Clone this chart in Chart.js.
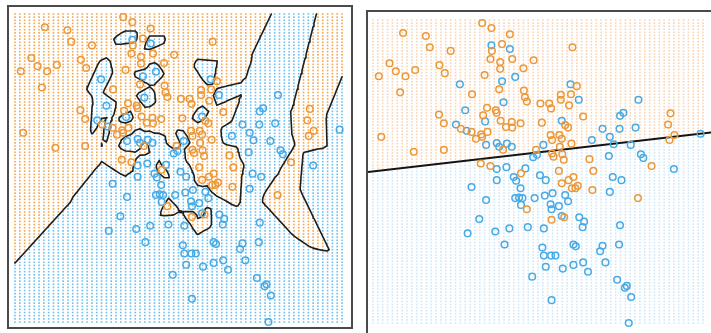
<!DOCTYPE html>
<html>
<head>
<meta charset="utf-8">
<script src="https://cdn.jsdelivr.net/npm/chart.js@4.4.1/dist/chart.umd.min.js"></script>
<style>
  html, body { margin: 0; padding: 0; background: #fff; overflow: hidden; width: 711px; height: 333px; }
  .panel { position: absolute; border: 2px solid #4a4a4a; }
  #p1 { left: 7px; top: 5px; width: 342px; height: 320px; }
  #p2 { left: 366px; top: 10px; width: 345px; height: 325px; }
  canvas { display: block; }
</style>
</head>
<body>
<div class="panel" id="p1"><canvas id="knn" width="342" height="320"></canvas></div>
<div class="panel" id="p2"><canvas id="lin" width="345" height="325"></canvas></div>
<script>
// Two-class mixture sample: [X1, X2] for each observation.
const orangePoints = [
  [-0.35,2.85],[-0.16,2.77],[0.22,2.67],[-1.98,2.69],[-1.51,2.64],[-1.43,2.46],[-1.00,2.40],[0.06,2.51],
  [-0.15,2.40],[-0.18,2.27],[0.27,2.27],[0.02,2.22],[0.02,2.11],[0.71,2.25],[0.50,2.12],[1.51,2.46],
  [-2.26,2.20],[-2.13,2.07],[-1.93,1.99],[-1.73,2.09],[-2.48,1.99],[-1.23,2.17],[-1.12,2.04],[-0.30,2.01],
  [-2.04,1.73],[-0.56,1.70],[0.00,1.78],[0.51,1.76],[0.53,1.65],[0.57,1.58],[0.85,1.55],[1.03,1.55],
  [1.07,1.47],[1.27,1.69],[1.27,1.61],[1.44,1.52],[1.48,1.70],[1.60,1.83],[1.73,1.34],[-1.24,1.37],
  [-1.14,1.23],[-0.25,1.48],[-0.07,1.44],[-0.05,1.40],[-0.33,1.36],[0.03,1.27],[0.26,1.25],[0.44,1.23],
  [0.14,1.17],[0.27,1.16],[0.88,1.24],[1.36,1.20],[1.42,1.16],[1.06,1.04],[1.24,1.04],[1.09,0.96],
  [1.29,0.98],[1.49,0.90],[1.25,0.85],[1.09,0.74],[1.30,0.73],[1.33,0.64],[1.12,0.69],[1.86,0.65],
  [3.53,1.39],[3.48,1.21],[3.61,1.04],[3.51,0.96],[3.14,0.54],[-2.43,1.01],[-1.76,0.77],[-1.14,0.80],
  [-0.79,1.14],[-0.57,1.09],[-0.48,0.98],[-0.37,1.05],[-0.35,1.01],[-0.24,1.09],[0.08,0.80],[-0.38,0.58],
  [-0.18,0.54],[0.76,0.80],[0.45,0.42],[1.23,0.46],[1.94,0.46],[1.29,0.26],[1.43,0.31],[1.53,0.36],
  [1.50,0.18],[1.62,0.22],[1.57,0.18],[1.92,0.15],[2.86,0.02],[0.57,-0.16],[1.08,-0.33],[1.34,-0.29]
];
const bluePoints = [
  [-0.16,2.49],[0.22,2.43],[0.06,1.91],[0.33,1.98],[-0.81,1.86],[0.09,1.57],[-0.70,1.44],[-0.29,1.26],
  [-0.89,1.21],[-0.67,1.11],[-0.27,0.88],[-0.05,0.91],[0.00,0.85],[0.16,0.90],[0.26,0.85],[1.47,1.86],
  [1.64,1.61],[1.29,1.27],[0.91,0.88],[0.78,0.72],[0.70,0.68],[1.91,0.96],[2.13,1.14],[2.28,1.01],
  [2.36,0.89],[2.48,1.14],[2.49,1.35],[2.56,1.40],[2.81,1.16],[2.87,1.61],[2.71,0.88],[2.26,0.70],
  [2.92,0.73],[2.97,0.67],[4.15,1.06],[3.60,0.49],[-0.05,0.49],[0.15,0.52],[0.54,0.50],[-0.05,0.31],
  [0.30,0.36],[0.35,0.30],[0.84,0.39],[0.96,0.31],[-0.57,0.20],[0.44,0.18],[-0.27,-0.01],[0.33,0.02],
  [0.41,0.03],[0.48,0.02],[0.45,-0.09],[0.73,0.02],[0.94,0.06],[1.10,0.10],[1.36,0.07],[1.42,-0.03],
  [1.06,-0.08],[1.08,-0.16],[1.23,-0.11],[1.29,-0.27],[1.65,-0.29],[1.75,-0.36],[1.72,-0.45],[2.34,0.36],
  [2.52,0.31],[2.28,0.12],[-0.41,-0.32],[-0.65,-0.55],[-0.08,-0.52],[0.21,-0.47],[0.59,-0.45],[0.92,-0.47],
  [0.11,-0.73],[0.89,-0.78],[0.92,-0.91],[1.07,-0.91],[1.16,-0.91],[0.96,-1.09],[1.31,-1.12],[1.53,-0.73],
  [1.58,-0.76],[1.53,-1.06],[1.73,-1.02],[1.83,-1.17],[2.08,-0.84],[2.13,-0.75],[2.19,-1.02],[2.47,-0.73],
  [2.49,-0.42],[0.68,-1.25],[1.08,-1.63],[2.43,-1.30],[2.59,-1.43],[2.63,-1.40],[2.72,-1.58],[2.67,-2.00]
];

// Linear-regression decision boundary, X2 = intercept + slope * X1.
const boundaryLine = { intercept: 0.687, slope: 0.090 };

// Prediction lattice over the feature space.
const gridX1 = { from: -2.6, to: 4.2, count: 69 };
const gridX2 = { from: -2.0, to: 2.9, count: 99 };

// Visible axis windows of the two panels.
const knnRange = { x: [-2.725, 4.387], y: [-2.080, 3.011] };
const linRange = { x: [-2.703, 4.406], y: [-2.226, 3.029] };

const ORANGE = 'rgb(236,152,56)';
const BLUE = 'rgb(72,170,228)';

function lattice(g) {
  const out = [];
  for (let i = 0; i < g.count; i++) out.push(g.from + i * (g.to - g.from) / (g.count - 1));
  return out;
}
const gx = lattice(gridX1), gy = lattice(gridX2);

// 1-nearest-neighbour margin: >0 where the closest sample is orange.
function nnMargin(a, b) {
  let dO = Infinity, dB = Infinity;
  for (const p of orangePoints) { const d = (p[0]-a)**2 + (p[1]-b)**2; if (d < dO) dO = d; }
  for (const p of bluePoints) { const d = (p[0]-a)**2 + (p[1]-b)**2; if (d < dB) dB = d; }
  return Math.sqrt(dB) - Math.sqrt(dO);
}

// Zero contour of a lattice function, as line pieces separated by gaps.
function contour(val) {
  const pts = [];
  const gap = { x: NaN, y: null };
  const edgePt = (x0, y0, v0, x1, y1, v1) => { const t = v0 / (v0 - v1); return { x: x0 + t*(x1-x0), y: y0 + t*(y1-y0) }; };
  for (let i = 0; i < gx.length - 1; i++) {
    for (let j = 0; j < gy.length - 1; j++) {
      const c = [[gx[i],gy[j],val[i][j]],[gx[i+1],gy[j],val[i+1][j]],[gx[i+1],gy[j+1],val[i+1][j+1]],[gx[i],gy[j+1],val[i][j+1]]];
      const e = [];
      for (let k = 0; k < 4; k++) {
        const a = c[k], b = c[(k+1)%4];
        e.push((a[2] > 0) !== (b[2] > 0) ? edgePt(a[0],a[1],a[2],b[0],b[1],b[2]) : null);
      }
      const hit = e.filter(Boolean);
      if (hit.length === 2) { pts.push(hit[0], hit[1], gap); }
      else if (hit.length === 4) {
        const centre = (c[0][2]+c[1][2]+c[2][2]+c[3][2]) / 4;
        if ((centre > 0) === (c[0][2] > 0)) pts.push(e[0], e[1], gap, e[2], e[3], gap);
        else pts.push(e[3], e[0], gap, e[1], e[2], gap);
      }
    }
  }
  return pts;
}

function dotSet(data, color, size) {
  return { type: 'scatter', data, order: 3, pointStyle: 'rect', pointRadius: size,
           backgroundColor: color, borderWidth: 0, pointHoverRadius: size };
}
function sampleSet(points, color) {
  return { type: 'scatter', data: points.map(p => ({ x: p[0], y: p[1] })), order: 0,
           pointStyle: 'circle', pointRadius: 3.3, borderWidth: 1.5, borderColor: color,
           backgroundColor: 'rgba(0,0,0,0)' };
}
function options(range) {
  return {
    responsive: false, animation: false, devicePixelRatio: 1, events: [],
    layout: { padding: 0, autoPadding: false },
    plugins: { legend: { display: false }, tooltip: { enabled: false } },
    scales: {
      x: { type: 'linear', display: false, min: range.x[0], max: range.x[1] },
      y: { type: 'linear', display: false, min: range.y[0], max: range.y[1] }
    }
  };
}

// Panel 1: 1-nearest-neighbour classifier.
const nnVal = gx.map(a => gy.map(b => nnMargin(a, b)));
const nnOrange = [], nnBlue = [];
gx.forEach((a, i) => gy.forEach((b, j) => (nnVal[i][j] > 0 ? nnOrange : nnBlue).push({ x: a, y: b })));

new Chart(document.getElementById('knn'), {
  type: 'scatter',
  data: { datasets: [
    sampleSet(orangePoints, ORANGE),
    sampleSet(bluePoints, BLUE),
    { type: 'line', data: contour(nnVal), order: 1, borderColor: '#1e1e1e', borderWidth: 1.6,
      pointRadius: 0, spanGaps: false, borderCapStyle: 'round', borderJoinStyle: 'round', tension: 0 },
    dotSet(nnOrange, 'rgb(242,168,84)', 1.15),
    dotSet(nnBlue, 'rgb(112,192,238)', 1.15)
  ] },
  options: options(knnRange)
});

// Panel 2: linear classifier.
const boundary = x1 => boundaryLine.intercept + boundaryLine.slope * x1;
const linOrange = [], linBlue = [];
gx.forEach(a => gy.forEach(b => (b > boundary(a) ? linOrange : linBlue).push({ x: a, y: b })));

new Chart(document.getElementById('lin'), {
  type: 'scatter',
  data: { datasets: [
    sampleSet(orangePoints, ORANGE),
    sampleSet(bluePoints, BLUE),
    { type: 'line', data: linRange.x.map(a => ({ x: a, y: boundary(a) })), order: 1,
      borderColor: '#141414', borderWidth: 2, pointRadius: 0, tension: 0 },
    dotSet(linOrange, 'rgb(250,212,180)', 1.15),
    dotSet(linBlue, 'rgb(206,232,250)', 1.15)
  ] },
  options: options(linRange)
});
</script>
</body>
</html>
